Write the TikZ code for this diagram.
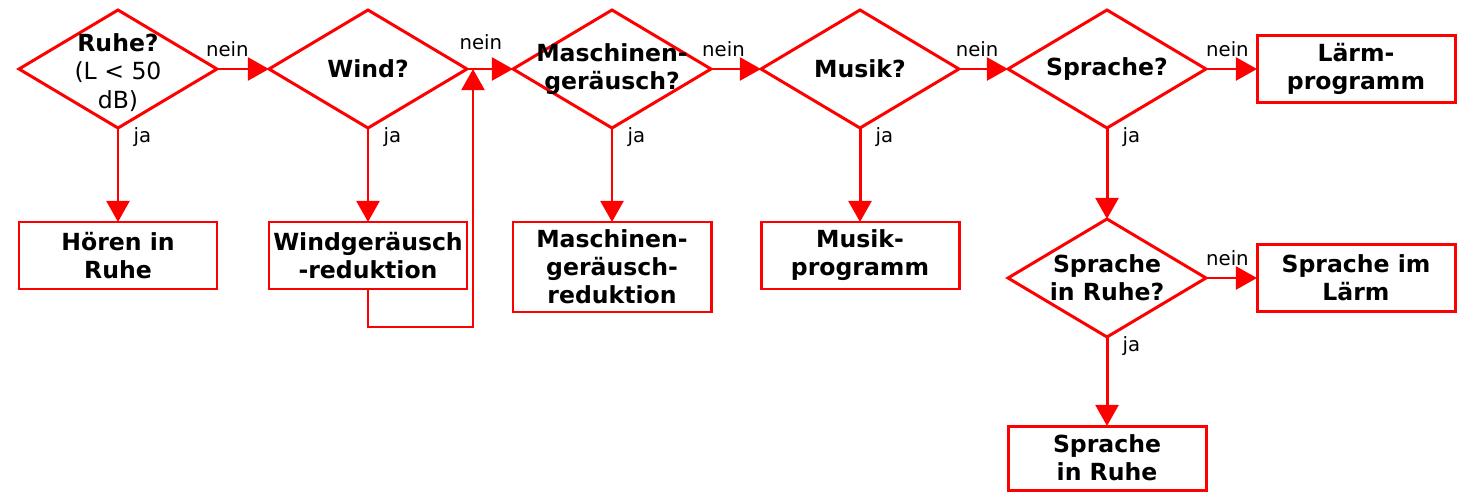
\documentclass[tikz,border=0pt]{standalone}
\usepackage{fontspec}
\setmainfont{DejaVu Sans}
\usetikzlibrary{positioning}
\usetikzlibrary{calc}
\usetikzlibrary{shapes.geometric, arrows.meta}

\begin{document}
\begin{tikzpicture}[
                node distance=1cm,
                reddiamondnode/.style={diamond, draw=red, line width=1.7pt, minimum width=3.96cm, minimum height=2.36cm, inner sep=0pt, outer sep=0pt},
                redsquarednode/.style={rectangle, draw=red, line width=1.7pt, minimum width=3.96cm, minimum height=1.34cm, inner sep=0pt, outer sep=0pt, align=center, font=\bfseries\fontsize{13.4}{16}\selectfont},
                diamondtext/.style={align=center, font=\bfseries\fontsize{13.4}{16}\selectfont},
                arrowlabel/.style={font=\fontsize{11.2}{13}\selectfont, inner sep=1pt},
                flow/.style={-{Triangle[length=12pt, width=13pt]}, line width=1.7pt, draw=red},
                ]
    \useasboundingbox (0,0) rectangle (29.26,-9.84);

    % top row: decisions
    \node[reddiamondnode, label={[diamondtext, yshift=-2pt]center:{Ruhe?\\\mdseries(L < 50\\\mdseries dB)}}] (ruhe) at (2.36,-1.38) {};
    \node[reddiamondnode, right=1.04cm of ruhe, label={[diamondtext]center:{Wind?}}] (wind) {};
    \node[reddiamondnode, right=0.92cm of wind, label={[diamondtext]center:{Maschinen-\\geräusch?}}] (masch) {};
    \node[reddiamondnode, right=1cm of masch, label={[diamondtext]center:{Musik?}}] (musik) {};
    \node[reddiamondnode, right=0.98cm of musik, label={[diamondtext]center:{Sprache?}}] (sprache) {};
    \node[redsquarednode, right=1.02cm of sprache] (laerm) {Lärm-\\programm};

    % right column
    \node[reddiamondnode, below=1.82cm of sprache, label={[diamondtext]center:{Sprache\\in Ruhe?}}] (spruhe) {};
    \node[redsquarednode, right=1.02cm of spruhe] (spimlaerm) {Sprache im\\Lärm};
    \node[redsquarednode, below=1.78cm of spruhe, minimum height=1.28cm] (spinruhe) {Sprache\\in Ruhe};

    % bottom row: programs
    \node[redsquarednode, below=1.88cm of ruhe] (hoeren) {Hören in\\Ruhe};
    \node[redsquarednode, below=1.88cm of wind] (windred) {Windgeräusch\\-reduktion};
    \node[redsquarednode, below=1.88cm of masch, minimum height=1.8cm] (maschred) {Maschinen-\\geräusch-\\reduktion};
    \node[redsquarednode, below=1.88cm of musik] (musikprog) {Musik-\\programm};

    % nein
    \draw[flow] (ruhe.east) -- node[arrowlabel, pos=0.2, above=5pt] {nein} (wind.west);
    \draw[flow] (wind.east) -- node[arrowlabel, pos=0.3, above=9pt] {nein} (masch.west);
    \draw[flow] (masch.east) -- node[arrowlabel, pos=0.25, above=5pt] {nein} (musik.west);
    \draw[flow] (musik.east) -- node[arrowlabel, pos=0.37, above=5pt] {nein} (sprache.west);
    \draw[flow] (sprache.east) -- node[arrowlabel, pos=0.42, above=5pt] {nein} (laerm.west);
    \draw[flow] (spruhe.east) -- node[arrowlabel, pos=0.42, above=5pt] {nein} (spimlaerm.west);

    % ja
    \draw[flow] (ruhe.south) -- node[arrowlabel, pos=0.1, right=7pt] {ja} (hoeren.north);
    \draw[flow] (wind.south) -- node[arrowlabel, pos=0.1, right=7pt] {ja} (windred.north);
    \draw[flow] (masch.south) -- node[arrowlabel, pos=0.1, right=7pt] {ja} (maschred.north);
    \draw[flow] (musik.south) -- node[arrowlabel, pos=0.1, right=7pt] {ja} (musikprog.north);
    \draw[flow] (sprache.south) -- node[arrowlabel, pos=0.1, right=7pt] {ja} (spruhe.north);
    \draw[flow] (spruhe.south) -- node[arrowlabel, pos=0.1, right=7pt] {ja} (spinruhe.north);

    % back to the main line
    \coordinate (loopin) at ($(wind.east)+(0.12,0)$);
    \draw[flow] (windred.south) -- ++(0,-0.76) -| (loopin);
\end{tikzpicture}
\end{document}
